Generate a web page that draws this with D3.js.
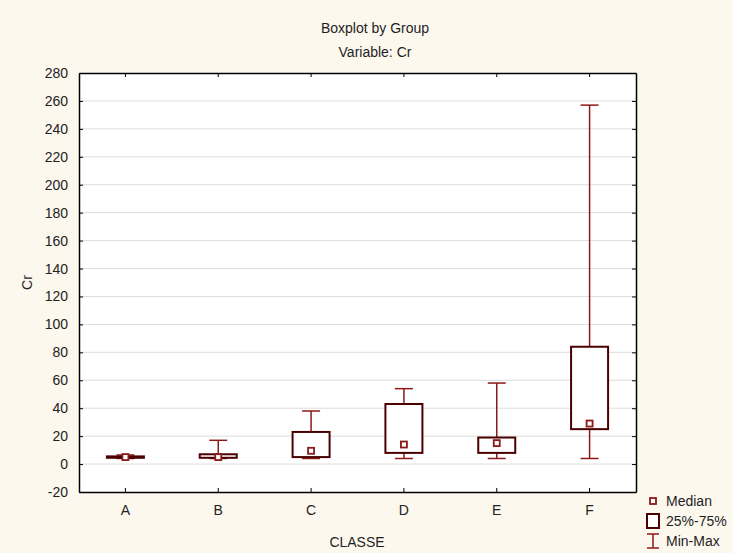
<!DOCTYPE html>
<html>
<head>
<meta charset="utf-8">
<script src="https://cdn.jsdelivr.net/npm/d3@7"></script>
<style>
  html, body { margin: 0; padding: 0; background: #fdf8ee; }
  svg { display: block; font-family: "Liberation Sans", Arial, sans-serif; }
  .grid line { stroke: #dcdcdc; stroke-width: 1; }
  .axis path, .axis line { stroke: #000; }
  .axis text { font-size: 14px; fill: #222; font-family: "Liberation Sans", Arial, sans-serif; }
</style>
</head>
<body>
<div id="chart"></div>
<script>
// Boxplot by group, variable Cr, classes A..F
const classes = ['A', 'B', 'C', 'D', 'E', 'F'];
const minVals    = [4,   4,  4,  4,  4,   4];
const q1Vals     = [4.5, 4.5, 5, 8,  8,  25];
const medianVals = [5,   5,  9.5, 14, 15, 29];
const q3Vals     = [5.5, 7, 23, 43, 19, 84];
const maxVals    = [6.5, 17, 38, 54, 58, 257];
const yTicks = [-20, 0, 20, 40, 60, 80, 100, 120, 140, 160, 180, 200, 220, 240, 260, 280];
const legendLabels = ['Median', '25%-75%', 'Min-Max'];

const WHISKER = '#8b1a1a';
const BOX = '#4a0000';
const TEXT = '#1e1e1e';

const W = 733, H = 553;
const plot = {left: 79, right: 636, top: 73, bottom: 492};

const svg = d3.select('#chart').append('svg')
    .attr('width', W)
    .attr('height', H);

svg.append('rect').attr('width', W).attr('height', H).attr('fill', '#fdf8ee');
svg.append('rect')
    .attr('x', plot.left).attr('y', plot.top)
    .attr('width', plot.right - plot.left)
    .attr('height', plot.bottom - plot.top)
    .attr('fill', '#fff');

const x = d3.scaleBand()
    .domain(classes)
    .range([plot.left, plot.right]);

const y = d3.scaleLinear()
    .domain([-20, 280])
    .range([plot.bottom, plot.top]);

// horizontal grid
svg.append('g')
    .attr('class', 'grid')
    .selectAll('line')
    .data(yTicks.slice(1, -1))
    .enter().append('line')
    .attr('x1', plot.left).attr('x2', plot.right)
    .attr('y1', d => y(d)).attr('y2', d => y(d));

// axes (left/bottom with labels, top/right ticks only)
svg.append('g')
    .attr('class', 'axis')
    .attr('transform', `translate(${plot.left},0)`)
    .call(d3.axisLeft(y).tickValues(yTicks).tickFormat(d => String(d))
        .tickSize(-4).tickPadding(11).tickSizeOuter(0))
    .call(g => g.select('.domain').attr('stroke-width', 1.5));

svg.append('g')
    .attr('class', 'axis')
    .attr('transform', `translate(${plot.right},0)`)
    .call(d3.axisRight(y).tickValues(yTicks).tickSize(-4).tickFormat('').tickSizeOuter(0))
    .call(g => g.select('.domain').attr('stroke-width', 1.5));

svg.append('g')
    .attr('class', 'axis')
    .attr('transform', `translate(0,${plot.bottom})`)
    .call(d3.axisBottom(x).tickSize(-4).tickPadding(13).tickSizeOuter(0))
    .call(g => g.select('.domain').attr('stroke-width', 1.5));

svg.append('g')
    .attr('class', 'axis')
    .attr('transform', `translate(0,${plot.top})`)
    .call(d3.axisTop(x).tickSize(-4).tickFormat('').tickSizeOuter(0))
    .call(g => g.select('.domain').attr('stroke-width', 1.5));

// boxes
const boxW = 37, capW = 18, medS = 6;
const data = classes.map((c, i) => ({
    c, min: minVals[i], q1: q1Vals[i], med: medianVals[i], q3: q3Vals[i], max: maxVals[i]
}));

const g = svg.selectAll('.box')
    .data(data)
    .enter().append('g')
    .attr('class', 'box')
    .attr('transform', d => `translate(${x(d.c) + x.bandwidth() / 2},0)`);

// whiskers
g.append('line')
    .attr('y1', d => y(d.max)).attr('y2', d => y(d.q3))
    .attr('stroke', WHISKER).attr('stroke-width', 1.5);
g.append('line')
    .attr('y1', d => y(d.q1)).attr('y2', d => y(d.min))
    .attr('stroke', WHISKER).attr('stroke-width', 1.5);
g.append('line')
    .attr('x1', -capW / 2).attr('x2', capW / 2)
    .attr('y1', d => y(d.max)).attr('y2', d => y(d.max))
    .attr('stroke', WHISKER).attr('stroke-width', 1.5);
g.append('line')
    .attr('x1', -capW / 2).attr('x2', capW / 2)
    .attr('y1', d => y(d.min)).attr('y2', d => y(d.min))
    .attr('stroke', WHISKER).attr('stroke-width', 1.5);

// box
g.append('rect')
    .attr('x', -boxW / 2)
    .attr('width', boxW)
    .attr('y', d => y(d.q3))
    .attr('height', d => y(d.q1) - y(d.q3))
    .attr('fill', '#fff')
    .attr('stroke', BOX)
    .attr('stroke-width', 2);

// median marker
g.append('rect')
    .attr('x', -medS / 2)
    .attr('y', d => y(d.med) - medS / 2)
    .attr('width', medS).attr('height', medS)
    .attr('fill', '#fff')
    .attr('stroke', WHISKER)
    .attr('stroke-width', 1.8);

// titles
svg.append('text')
    .attr('x', 375).attr('y', 33)
    .attr('text-anchor', 'middle')
    .attr('font-size', 14).attr('fill', TEXT)
    .text('Boxplot by Group');
svg.append('text')
    .attr('x', 375).attr('y', 57)
    .attr('text-anchor', 'middle')
    .attr('font-size', 14).attr('fill', TEXT)
    .text('Variable: Cr');

svg.append('text')
    .attr('x', 357).attr('y', 547)
    .attr('text-anchor', 'middle')
    .attr('font-size', 14).attr('fill', TEXT)
    .text('CLASSE');

svg.append('text')
    .attr('transform', `translate(32,${(plot.top + plot.bottom) / 2}) rotate(-90)`)
    .attr('text-anchor', 'middle')
    .attr('font-size', 14).attr('fill', TEXT)
    .text('Cr');

// legend
const legend = svg.append('g').attr('transform', 'translate(653,0)');
legend.append('rect')
    .attr('x', -3).attr('y', 498).attr('width', 6).attr('height', 6)
    .attr('fill', '#fff').attr('stroke', WHISKER).attr('stroke-width', 1.8);
legend.append('rect')
    .attr('x', -6).attr('y', 514).attr('width', 12).attr('height', 14)
    .attr('fill', '#fff').attr('stroke', BOX).attr('stroke-width', 2);
legend.append('line')
    .attr('x1', 0).attr('x2', 0).attr('y1', 534).attr('y2', 548)
    .attr('stroke', WHISKER).attr('stroke-width', 1.5);
legend.append('line')
    .attr('x1', -6).attr('x2', 6).attr('y1', 534).attr('y2', 534)
    .attr('stroke', WHISKER).attr('stroke-width', 1.5);
legend.append('line')
    .attr('x1', -6).attr('x2', 6).attr('y1', 548).attr('y2', 548)
    .attr('stroke', WHISKER).attr('stroke-width', 1.5);

legend.selectAll('.lbl')
    .data(legendLabels)
    .enter().append('text')
    .attr('x', 13)
    .attr('y', (d, i) => 506 + i * 20)
    .attr('font-size', 14).attr('fill', TEXT)
    .text(d => d);
</script>
</body>
</html>
